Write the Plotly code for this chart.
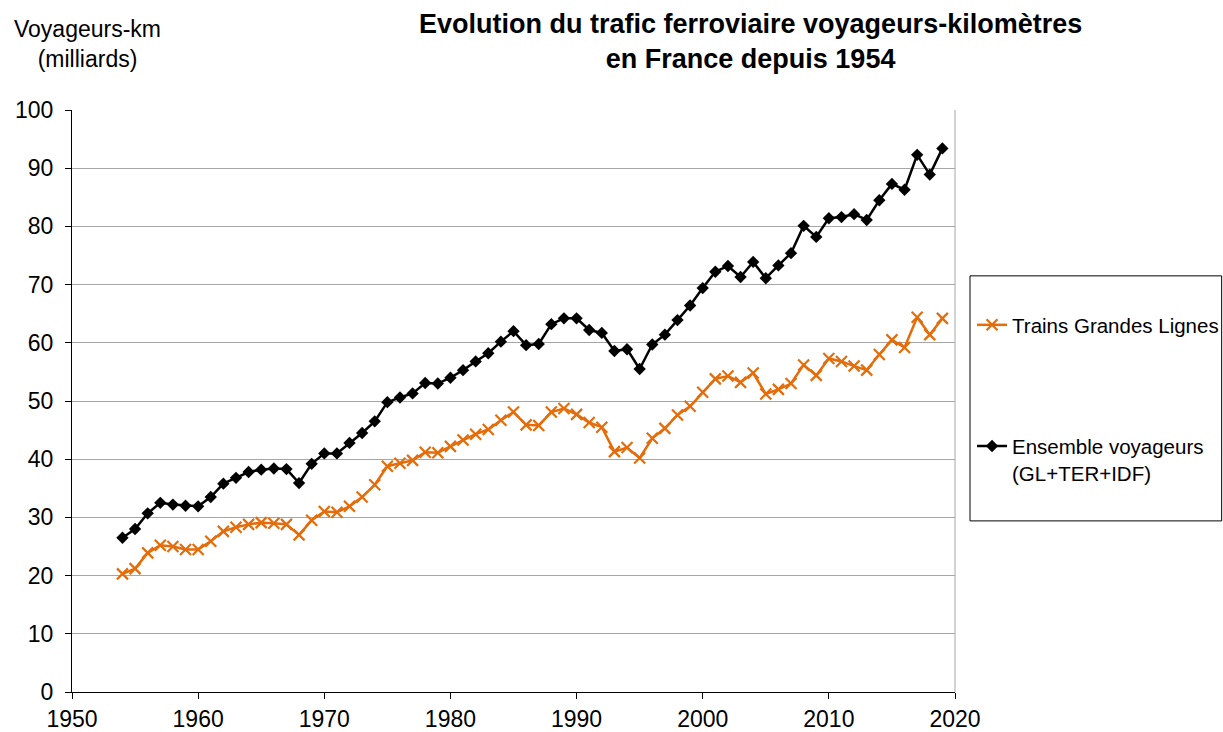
import plotly.graph_objects as go

years = list(range(1954, 2020))

ensemble = [26.5, 28.0, 30.7, 32.5, 32.2, 32.0, 31.9, 33.5, 35.8, 36.8,
            37.8, 38.2, 38.4, 38.3, 35.9, 39.2, 41.0, 41.0, 42.8, 44.5,
            46.5, 49.8, 50.6, 51.3, 53.1, 53.0, 54.0, 55.3, 56.8, 58.2,
            60.2, 62.0, 59.6, 59.8, 63.2, 64.2, 64.2, 62.2, 61.7, 58.6,
            58.9, 55.5, 59.7, 61.4, 63.9, 66.4, 69.4, 72.2, 73.2, 71.3,
            73.9, 71.1, 73.3, 75.4, 80.1, 78.2, 81.4, 81.6, 82.1, 81.1,
            84.5, 87.3, 86.3, 92.3, 88.9, 93.4]

grandes_lignes = [20.3, 21.2, 23.9, 25.2, 25.0, 24.5, 24.5, 25.9, 27.6, 28.3,
                  28.8, 29.1, 29.0, 28.8, 27.0, 29.5, 31.0, 30.9, 31.9, 33.5,
                  35.6, 38.8, 39.3, 39.8, 41.2, 41.1, 42.2, 43.3, 44.3, 45.1,
                  46.7, 48.1, 45.9, 45.8, 48.1, 48.7, 47.7, 46.3, 45.5, 41.3,
                  42.0, 40.2, 43.6, 45.3, 47.6, 49.1, 51.5, 53.8, 54.3, 53.2,
                  54.8, 51.2, 52.0, 53.0, 56.2, 54.4, 57.3, 56.8, 56.0, 55.3,
                  58.0, 60.5, 59.2, 64.4, 61.4, 64.2]

x_ticks = [1950, 1960, 1970, 1980, 1990, 2000, 2010, 2020]
y_ticks = [0, 10, 20, 30, 40, 50, 60, 70, 80, 90, 100]

FONT = "Liberation Sans, Arial, sans-serif"
ORANGE = "#E46C0A"

fig = go.Figure()
fig.add_trace(go.Scatter(
    x=years, y=grandes_lignes, mode="lines+markers",
    name="Trains Grandes Lignes",
    line=dict(color=ORANGE, width=2.5),
    marker=dict(symbol="x-thin", size=11, line=dict(color=ORANGE, width=2.2)),
    legend="legend",
))
fig.add_trace(go.Scatter(
    x=years, y=ensemble, mode="lines+markers",
    name="Ensemble voyageurs<br>(GL+TER+IDF)",
    line=dict(color="black", width=2.5),
    marker=dict(symbol="diamond", size=9.5, color="black"),
    legend="legend2",
))

fig.update_layout(
    width=1223, height=732,
    margin=dict(l=72, r=268, t=110, b=40, autoexpand=False),
    paper_bgcolor="white", plot_bgcolor="white",
    font=dict(family=FONT, size=21, color="black"),
    showlegend=True,
    legend=dict(xref="container", yref="container",
                x=0.7948, y=0.556, xanchor="left", yanchor="middle",
                bgcolor="rgba(0,0,0,0)", font=dict(size=20.5),
                itemwidth=30),
    legend2=dict(xref="container", yref="container",
                 x=0.7948, y=0.372, xanchor="left", yanchor="middle",
                 bgcolor="rgba(0,0,0,0)", font=dict(size=20.5),
                 valign="top", itemwidth=30),
    xaxis=dict(range=[1950, 2020], tickvals=x_ticks, showgrid=False,
               showline=True, linecolor="black", linewidth=1,
               ticks="outside", ticklen=6, tickcolor="black",
               tickfont=dict(size=23), zeroline=False, automargin=False),
    yaxis=dict(range=[0, 100], tickvals=y_ticks, showgrid=True,
               gridcolor="#A6A6A6", gridwidth=1,
               showline=True, linecolor="black", linewidth=1,
               ticks="outside", ticklen=6, tickcolor="black",
               ticklabelstandoff=7,
               tickfont=dict(size=23), zeroline=False, automargin=False),
)

# plot area border (right side)
fig.add_shape(type="line", xref="paper", yref="paper", x0=1, x1=1, y0=0, y1=1,
              line=dict(color="#A6A6A6", width=1))
# legend box
fig.add_shape(type="rect", xref="paper", yref="paper",
              x0=1.017, x1=1.302, y0=0.294, y1=0.715,
              line=dict(color="black", width=1), fillcolor="rgba(0,0,0,0)")

fig.add_annotation(
    text="<b>Evolution du trafic ferroviaire voyageurs-kilomètres<br>en France depuis 1954</b>",
    xref="paper", yref="paper", x=0.768, y=1, xanchor="center", yanchor="middle",
    yshift=69, showarrow=False, font=dict(size=27, color="black"), align="center",
)
fig.add_annotation(
    text="Voyageurs-km<br>(milliards)",
    xref="paper", yref="paper", x=0.018, y=1, xanchor="center", yanchor="middle",
    yshift=66, showarrow=False, font=dict(size=23, color="black"), align="center",
)

fig.write_html("out.html", config={"displayModeBar": False},
               post_script="document.body.style.margin='0';")
